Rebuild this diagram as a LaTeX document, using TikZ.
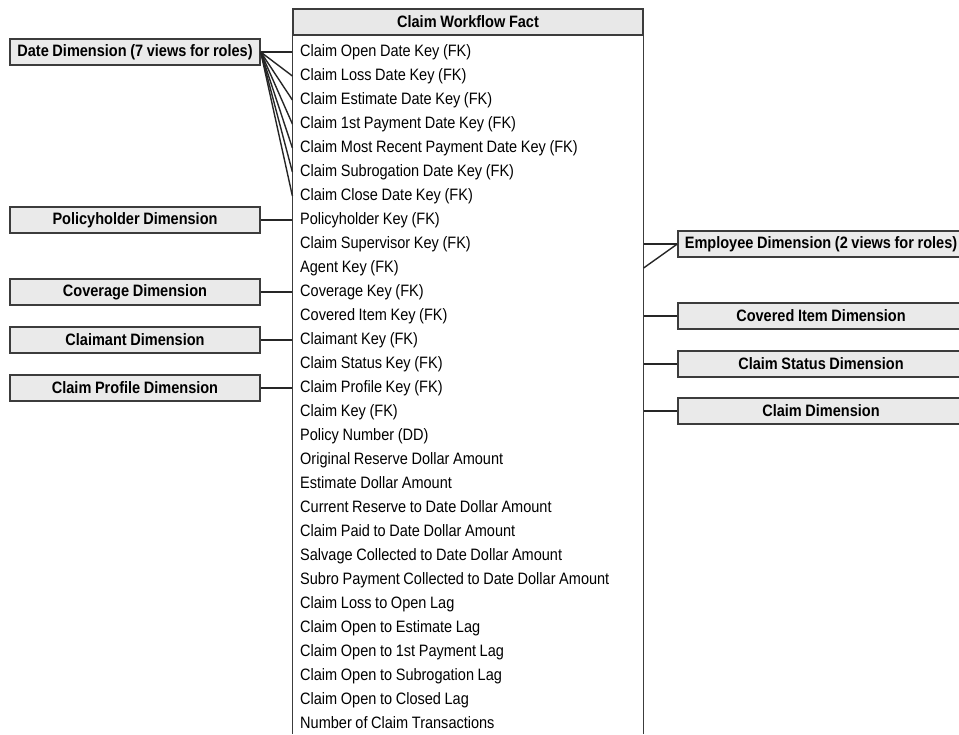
\documentclass[tikz,border=0pt]{standalone}
\usepackage{fontspec}
\setmainfont{Liberation Sans}[FakeStretch=0.88,WordSpace=0.9]
\usetikzlibrary{positioning,calc}
\definecolor{dimc}{RGB}{234,234,234}
\definecolor{hdc}{RGB}{232,232,232}
\definecolor{edgec}{RGB}{60,60,60}
\tikzset{dim/.style={draw=edgec,fill=dimc,line width=1.4pt,minimum height=26pt,inner sep=0pt,font=\fontsize{16.5}{18}\selectfont\bfseries},
 ldim/.style={dim,minimum width=250pt},rdim/.style={dim,minimum width=286pt},
 hdr/.style={draw=edgec,fill=hdc,line width=1.2pt,minimum width=350pt,minimum height=26pt,inner sep=0pt,font=\fontsize{16.5}{18}\selectfont\bfseries},
 row/.style={anchor=west,inner sep=0pt,text height=12pt,text depth=3.5pt,font=\fontsize{16.5}{18}\selectfont},
 side/.style={draw=edgec,line width=1.2pt},
 wire/.style={line width=1.4pt,black!85}}

\begin{document}
\begin{tikzpicture}[x=1pt,y=-1pt]
\useasboundingbox (0,0) rectangle (959,734);
% fact table
\node[hdr] (fact) at (468,22) {Claim Workflow Fact};
\foreach \t [count=\i] in {Claim Open Date Key (FK),Claim Loss Date Key (FK),Claim Estimate Date Key (FK),
 Claim 1st Payment Date Key (FK),Claim Most Recent Payment Date Key (FK),Claim Subrogation Date Key (FK),
 Claim Close Date Key (FK),Policyholder Key (FK),Claim Supervisor Key (FK),Agent Key (FK),Coverage Key (FK),
 Covered Item Key (FK),Claimant Key (FK),Claim Status Key (FK),Claim Profile Key (FK),Claim Key (FK),
 Policy Number (DD),Original Reserve Dollar Amount,Estimate Dollar Amount,Current Reserve to Date Dollar Amount,
 Claim Paid to Date Dollar Amount,Salvage Collected to Date Dollar Amount,Subro Payment Collected to Date Dollar Amount,
 Claim Loss to Open Lag,Claim Open to Estimate Lag,Claim Open to 1st Payment Lag,Claim Open to Subrogation Lag,
 Claim Open to Closed Lag,Number of Claim Transactions}
 {\node[row] (r\i) at (300,{52+24*(\i-1)}) {\t};}
\draw[side] (fact.south west) -- (fact.south west |- 0,734);
\draw[side] (fact.south east) -- (fact.south east |- 0,734);
% dimensions
\node[ldim] (date) at (135,52) {Date Dimension (7 views for roles)};
\node[ldim] (holder) at (135,220) {Policyholder Dimension};
\node[ldim] (cover) at (135,292) {Coverage Dimension};
\node[ldim] (claimant) at (135,340) {Claimant Dimension};
\node[ldim] (profile) at (135,388) {Claim Profile Dimension};
\node[rdim] (emp) at (821,244) {Employee Dimension (2 views for roles)};
\node[rdim] (item) at (821,316) {Covered Item Dimension};
\node[rdim] (status) at (821,364) {Claim Status Dimension};
\node[rdim] (claim) at (821,411) {Claim Dimension};
% joins
\foreach \k in {1,...,7}{\draw[wire] (date.east) -- (r\k.west -| fact.west);}
\draw[wire] (holder) -- (holder -| fact.west);
\draw[wire] (cover) -- (cover -| fact.west);
\draw[wire] (claimant) -- (claimant -| fact.west);
\draw[wire] (profile) -- (profile -| fact.west);
\draw[wire] (emp.west) -- (emp.west -| fact.east);
\draw[wire] (emp.west) -- (r10.west -| fact.east);
\draw[wire] (item) -- (item -| fact.east);
\draw[wire] (status) -- (status -| fact.east);
\draw[wire] (claim) -- (claim -| fact.east);
\end{tikzpicture}
\end{document}
